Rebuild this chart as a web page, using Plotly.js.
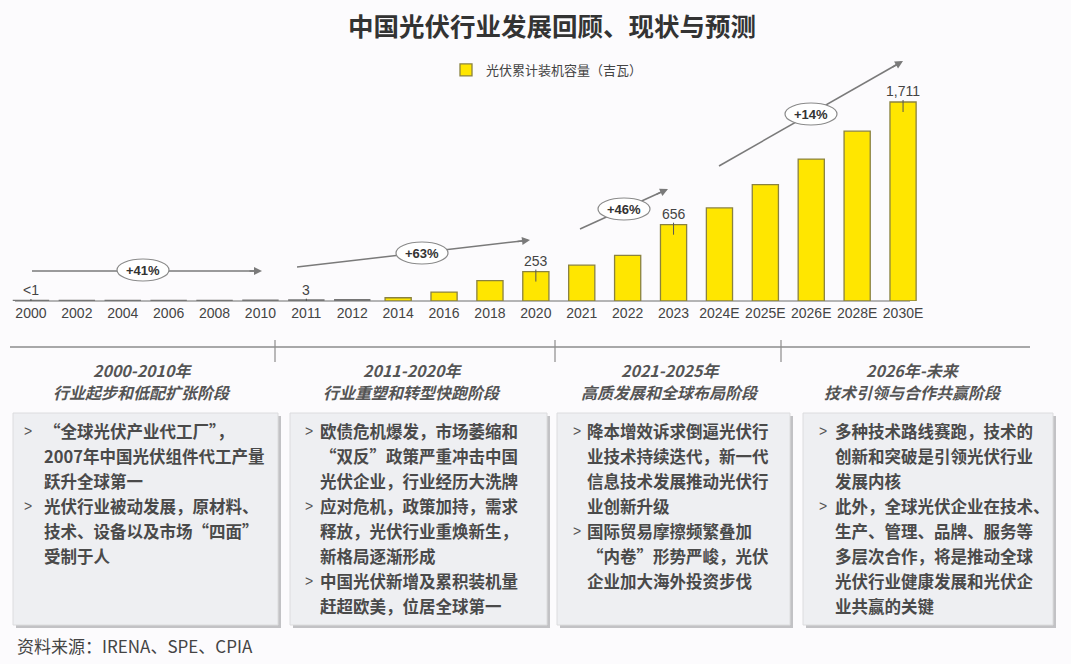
<!DOCTYPE html>
<html>
<head>
<meta charset="utf-8">
<script src="https://cdn.plot.ly/plotly-3.0.1.min.js"></script>
<style>
  html, body { margin: 0; padding: 0; background: #fcfbfd; }
  #chart { width: 1071px; height: 664px; }
</style>
</head>
<body>
<div id="chart"></div>
<script>
// ---------------- data ----------------
const categories = ['2000','2002','2004','2006','2008','2010','2011','2012','2014','2016','2018','2020','2021','2022','2023','2024E','2025E','2026E','2028E','2030E'];
const capacity   = [0.02, 0.04, 0.07, 0.08, 0.14, 0.86, 3, 6.7, 28, 77, 175, 253, 308, 392, 656, 800, 1000, 1220, 1460, 1711];
const seriesName = '光伏累计装机容量（吉瓦）';

const labelCats  = ['2000', '2011', '2020', '2023', '2030E'];
const labelTexts = ['&lt;1', '3', '253', '656', '1,711'];

const growthLabels = ['+41%', '+63%', '+46%', '+14%'];

const titleText  = '中国光伏行业发展回顾、现状与预测';
const sourceText = '资料来源：IRENA、SPE、CPIA';

const phaseYears = ['2000-2010年', '2011-2020年', '2021-2025年', '2026年-未来'];
const phaseNames = ['行业起步和低配扩张阶段', '行业重塑和转型快跑阶段', '高质发展和全球布局阶段', '技术引领与合作共赢阶段'];
const phaseBullets = [
  [
    ['“全球光伏产业代工厂”，', '2007年中国光伏组件代工产量', '跃升全球第一'],
    ['光伏行业被动发展，原材料、', '技术、设备以及市场“四面”', '受制于人']
  ],
  [
    ['欧债危机爆发，市场萎缩和', '“双反”政策严重冲击中国', '光伏企业，行业经历大洗牌'],
    ['应对危机，政策加持，需求', '释放，光伏行业重焕新生，', '新格局逐渐形成'],
    ['中国光伏新增及累积装机量', '赶超欧美，位居全球第一']
  ],
  [
    ['降本增效诉求倒逼光伏行', '业技术持续迭代，新一代', '信息技术发展推动光伏行', '业创新升级'],
    ['国际贸易摩擦频繁叠加', '“内卷”形势严峻，光伏', '企业加大海外投资步伐']
  ],
  [
    ['多种技术路线赛跑，技术的', '创新和突破是引领光伏行业', '发展内核'],
    ['此外，全球光伏企业在技术、', '生产、管理、品牌、服务等', '多层次合作，将是推动全球', '光伏行业健康发展和光伏企', '业共赢的关键']
  ]
];

// ---------------- layout helpers (page pixels -> paper) ----------------
const M = { l: 8, r: 145, t: 60, b: 363 };
const W = 1071, H = 664;
const PW = W - M.l - M.r, PH = H - M.t - M.b;
const PX = x => (x - M.l) / PW;
const PY = y => (H - M.b - y) / PH;
const YMAX = 2072;
const pxPerUnit = PH / YMAX;

const CJK = '"Noto Sans CJK SC", "Noto Sans", sans-serif';
const ARIAL = '"Liberation Sans", Arial, sans-serif';

const shapes = [];
const annotations = [];
function note(o) {
  annotations.push(Object.assign({ xref: 'paper', yref: 'paper', showarrow: false, xanchor: 'center', yanchor: 'middle' }, o));
}

// baseline
shapes.push({ type: 'line', xref: 'paper', yref: 'paper', x0: PX(15), x1: PX(910), y0: PY(301), y1: PY(301),
  line: { color: '#9c9c9c', width: 1.5 }, layer: 'below' });

// leader ticks at labelled bars + value labels
labelCats.forEach((c, i) => {
  const idx = categories.indexOf(c);
  const v = capacity[idx];
  const down = Math.min(10, v * pxPerUnit + 1);
  shapes.push({ type: 'line', xref: 'x', yref: 'y', ysizemode: 'pixel', yanchor: v,
    x0: idx, x1: idx, y0: -down, y1: 2, line: { color: '#555', width: 1 } });
  note({ x: idx, y: v, xref: 'x', yref: 'y', text: labelTexts[i], yshift: 11,
    font: { family: ARIAL, size: 14, color: '#444' } });
});

// growth arrows (decorations, page pixels)
const growthGeo = [
  { t: [32, 271],  h: [262, 271], c: [143, 270] },
  { t: [297, 267], h: [530, 240], c: [422, 253] },
  { t: [580, 229], h: [668, 189], c: [624, 209] },
  { t: [719, 166], h: [903, 61],  c: [811, 114] }
];
growthGeo.forEach((g, i) => {
  const dx = g.h[0] - g.t[0], dy = g.h[1] - g.t[1];
  const len = Math.hypot(dx, dy);
  const ux = dx / len, uy = dy / len;
  shapes.push({ type: 'line', xref: 'paper', yref: 'paper',
    x0: PX(g.t[0]), y0: PY(g.t[1]), x1: PX(g.h[0] - ux * 6), y1: PY(g.h[1] - uy * 6),
    line: { color: '#7a7a7a', width: 1.5 } });
  shapes.push({ type: 'circle', xref: 'paper', yref: 'paper',
    x0: PX(g.c[0] - 26), x1: PX(g.c[0] + 26), y0: PY(g.c[1] - 11), y1: PY(g.c[1] + 11),
    fillcolor: '#ffffff', line: { color: '#8a8a8a', width: 1.2 } });
  annotations.push({ xref: 'paper', yref: 'paper', x: PX(g.h[0]), y: PY(g.h[1]), text: '',
    showarrow: true, arrowhead: 2, arrowsize: 1, arrowwidth: 1.6, arrowcolor: '#7a7a7a',
    ax: -ux * 14, ay: -uy * 14 });
  note({ x: PX(g.c[0]), y: PY(g.c[1]), text: growthLabels[i],
    font: { family: ARIAL, size: 13, color: '#333', weight: 'bold' } });
});

// divider line with ticks
shapes.push({ type: 'line', xref: 'paper', yref: 'paper', x0: PX(10), x1: PX(1030), y0: PY(347), y1: PY(347),
  line: { color: '#8c8c8c', width: 1.5 } });
[275, 555, 781].forEach(x => shapes.push({ type: 'line', xref: 'paper', yref: 'paper',
  x0: PX(x), x1: PX(x), y0: PY(340), y1: PY(362), line: { color: '#8c8c8c', width: 1.2 } }));

// phase boxes
const boxL = [13, 290, 557, 803], boxR = [278, 547, 790, 1053];
const headC = [142, 412, 670, 913];
const gtOff = [9, 13, 14, 14], txtOff = [29, 28, 28, 30];
const boxTop = 413, boxBot = 625;
phaseYears.forEach((yr, p) => {
  shapes.push({ type: 'rect', xref: 'paper', yref: 'paper',
    x0: PX(boxL[p] + 3), x1: PX(boxR[p] + 3), y0: PY(boxTop + 3), y1: PY(boxBot + 3),
    fillcolor: '#c2c2c5', line: { width: 0 } });
  shapes.push({ type: 'rect', xref: 'paper', yref: 'paper',
    x0: PX(boxL[p]), x1: PX(boxR[p]), y0: PY(boxTop), y1: PY(boxBot),
    fillcolor: '#eeeff2', line: { color: '#dcdcde', width: 1 } });
  note({ x: PX(headC[p]), y: PY(370), text: '<i>' + yr + '</i>',
    font: { family: CJK, size: 16, color: '#555', weight: 'bold' } });
  note({ x: PX(headC[p]), y: PY(392), text: '<i>' + phaseNames[p] + '</i>',
    font: { family: CJK, size: 16, color: '#555', weight: 'bold' } });
  let row = 0;
  phaseBullets[p].forEach(bullet => {
    bullet.forEach((line, li) => {
      const y = 431 + row * 25;
      if (li === 0) {
        note({ x: PX(boxL[p] + gtOff[p]), y: PY(y), xanchor: 'left', text: '&gt;',
          font: { family: ARIAL, size: 14, color: '#555' } });
      }
      note({ x: PX(boxL[p] + txtOff[p]), y: PY(y), xanchor: 'left', text: line,
        font: { family: CJK, size: 16.5, color: '#4a4a4a', weight: 'bold' } });
      row++;
    });
  });
});

// source
note({ x: PX(15), y: PY(645), xanchor: 'left', text: sourceText,
  font: { family: CJK, size: 17, color: '#444' } });

// ---------------- traces ----------------
const bars = {
  type: 'bar', x: categories, y: capacity, name: seriesName,
  marker: { color: '#FFE600', line: { color: '#8a8240', width: 1.3 } },
  hoverinfo: 'x+y'
};
const tinyIdx = capacity.map((v, i) => i).filter(i => capacity[i] < 10);
const tiny = {
  type: 'scatter', mode: 'markers', showlegend: false, hoverinfo: 'skip',
  x: tinyIdx.map(i => categories[i]), y: tinyIdx.map(i => capacity[i]),
  marker: { symbol: 'line-ew', size: 26, line: { color: '#767676', width: 2.6 } }
};

const layout = {
  width: W, height: H,
  margin: M,
  paper_bgcolor: '#fcfbfd', plot_bgcolor: '#fcfbfd',
  title: { text: '<b>' + titleText + '</b>', x: 552 / W, xanchor: 'center', y: 1 - 27 / H, yanchor: 'middle',
    font: { family: CJK, size: 25.5, color: '#333' } },
  showlegend: true,
  legend: { orientation: 'h', x: PX(446), y: PY(55), xanchor: 'left', yanchor: 'top',
    font: { family: CJK, size: 13, color: '#444' }, bgcolor: 'rgba(0,0,0,0)' },
  bargap: 0.43,
  xaxis: { type: 'category', range: [-0.5, 19.5], showgrid: false, zeroline: false, showline: false, ticks: '',
    ticklabelstandoff: 2,
    tickfont: { family: ARIAL, size: 14, color: '#444' }, fixedrange: true },
  yaxis: { range: [0, YMAX], visible: false, fixedrange: true },
  shapes: shapes,
  annotations: annotations
};

Plotly.newPlot('chart', [bars, tiny], layout, { displayModeBar: false, staticPlot: true });
</script>
</body>
</html>
